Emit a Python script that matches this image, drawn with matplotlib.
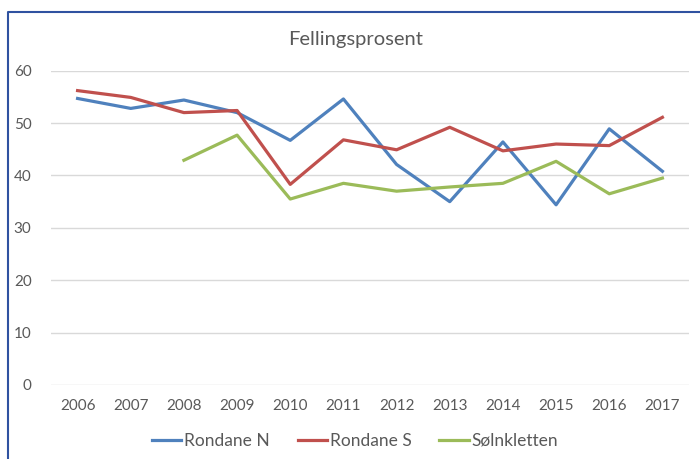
import matplotlib.pyplot as plt
from matplotlib.lines import Line2D
import numpy as np

years = [2006, 2007, 2008, 2009, 2010, 2011, 2012, 2013, 2014, 2015, 2016, 2017]
rondane_n = [54.7, 52.8, 54.4, 52.0, 46.7, 54.6, 42.1, 35.0, 46.4, 34.4, 48.9, 40.8]
rondane_s = [56.2, 54.9, 52.0, 52.4, 38.3, 46.8, 44.9, 49.2, 44.7, 46.0, 45.7, 51.1]
solnkletten = [np.nan, np.nan, 42.9, 47.7, 35.5, 38.5, 37.0, 37.8, 38.5, 42.7, 36.5, 39.5]

plt.rcParams['font.family'] = ['Lato', 'DejaVu Sans']
txt = '#595959'

fig = plt.figure(figsize=(7, 4.59), dpi=100)
ax = fig.add_axes([51 / 700, 1 - 385 / 459, 638 / 700, (385 - 70.7) / 459])

x = np.arange(len(years))
ax.plot(x, rondane_n, color='#4F81BD', lw=2.3, label='Rondane N')
ax.plot(x, rondane_s, color='#C0504D', lw=2.3, label='Rondane S')
ax.plot(x, solnkletten, color='#9BBB59', lw=2.3, label='Sølnkletten')

ax.set_xlim(-0.5, len(years) - 0.5)
ax.set_ylim(0, 60)
ax.set_yticks(range(0, 61, 10))
ax.set_xticks(x)
ax.set_xticklabels([str(y) for y in years])
ax.tick_params(length=0, labelsize=11, colors=txt, pad=10)
ax.tick_params(axis='y', pad=14)
ax.grid(axis='y', color='#d9d9d9', lw=1)
ax.set_axisbelow(True)
for s in ax.spines.values():
    s.set_visible(False)

fig.text(356 / 700, 1 - 40 / 459, 'Fellingsprosent', ha='center', va='center',
         fontsize=14.5, color=txt)

fig.legend(loc='center', bbox_to_anchor=(355 / 700, 1 - 441 / 459), ncol=3,
           frameon=False, fontsize=12.5, labelcolor=txt, handlelength=1.7,
           handletextpad=0.15, columnspacing=1.6)

# blå ramme (beskåret)
fig.add_artist(Line2D([8 / 700, 8 / 700, 1], [0, 1 - 12 / 459, 1 - 12 / 459],
                      transform=fig.transFigure, color='#2F52A0', lw=1.5))

fig.savefig('out.png', dpi=100)
